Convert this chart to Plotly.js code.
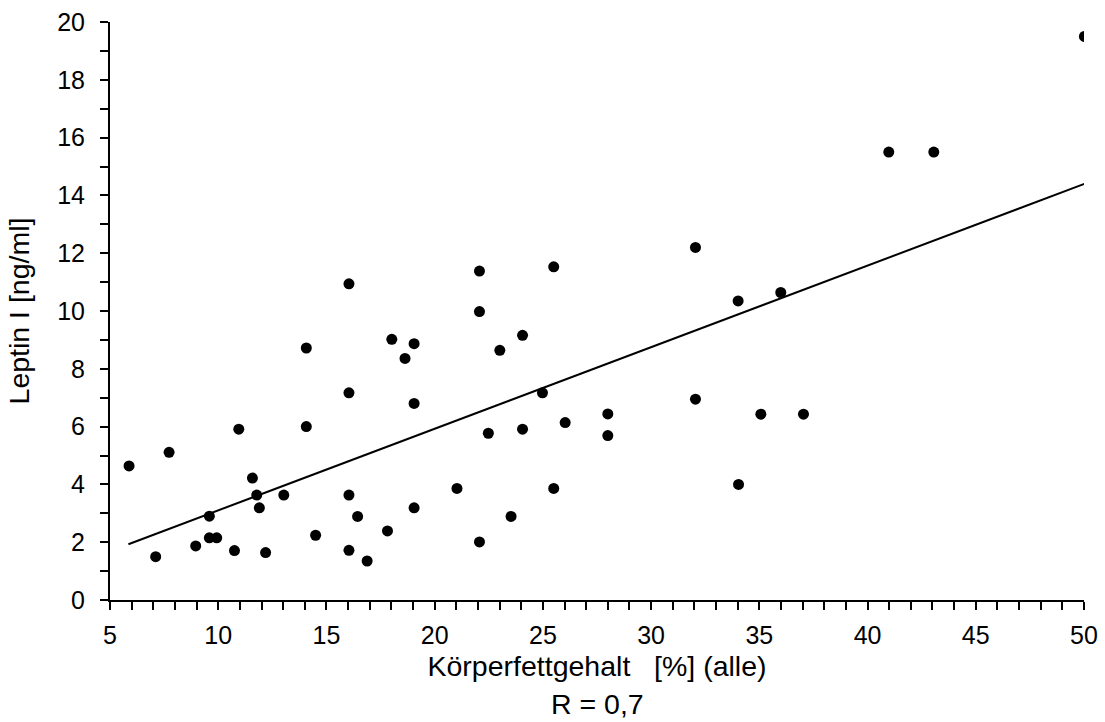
<!DOCTYPE html>
<html>
<head>
<meta charset="utf-8">
<script src="https://cdn.plot.ly/plotly-3.0.1.min.js"></script>
<style>html,body{margin:0;padding:0;background:#fff;}#chart{width:1105px;height:722px;}</style>
</head>
<body>
<div id="chart"></div>
<script>
// Körperfettgehalt [%] (x) vs Leptin I [ng/ml] (y)
const bodyFat = [5.88, 7.73, 7.11, 8.96, 9.59, 9.59, 9.93, 10.75, 10.95, 11.58, 11.78, 11.90, 12.19, 13.03,
  14.07, 14.07, 14.50, 16.04, 16.04, 16.04, 16.04, 16.44, 16.88, 17.82, 18.02, 18.63, 19.05, 19.05, 19.05,
  21.03, 22.07, 22.07, 22.07, 22.48, 23.01, 23.53, 24.06, 24.06, 24.98, 25.50, 25.50, 26.03, 28.00, 28.00,
  32.05, 32.05, 34.02, 34.04, 35.07, 35.99, 37.04, 40.98, 43.06, 50.02];
const leptin = [4.64, 5.11, 1.50, 1.87, 2.90, 2.15, 2.15, 1.71, 5.91, 4.22, 3.63, 3.19, 1.64, 3.63,
  6.00, 8.72, 2.24, 3.63, 1.72, 7.17, 10.94, 2.89, 1.35, 2.39, 9.02, 8.36, 8.87, 6.80, 3.19,
  3.86, 11.38, 9.98, 2.01, 5.77, 8.64, 2.89, 9.16, 5.91, 7.17, 11.53, 3.86, 6.14, 6.44, 5.69,
  12.20, 6.95, 10.35, 4.00, 6.43, 10.64, 6.43, 15.50, 15.50, 19.50];
// regression line endpoints
const fitX = [5.85, 50.02];
const fitY = [1.93, 14.40];
const xTitle = 'Körperfettgehalt\u00a0\u00a0\u00a0[%] (alle)';
const rText = 'R = 0,7';
const yTitle = 'Leptin I [ng/ml]';

const FAMILY = '"Liberation Sans", Arial, sans-serif';
const tickFont = {family: FAMILY, color: '#000', size: 25};
const titleFont = {family: FAMILY, color: '#000', size: 28.5};

const traces = [
  {x: bodyFat, y: leptin, type: 'scatter', mode: 'markers',
   marker: {color: '#000', size: 11}, hoverinfo: 'x+y'},
  {x: fitX, y: fitY, type: 'scatter', mode: 'lines',
   line: {color: '#000', width: 2}, hoverinfo: 'skip'}
];

const layout = {
  width: 1105, height: 722,
  margin: {l: 110, r: 21, t: 22, b: 122},
  paper_bgcolor: '#fff', plot_bgcolor: '#fff',
  showlegend: false,
  font: tickFont,
  xaxis: {
    range: [5, 50], tick0: 5, dtick: 5, showgrid: false, zeroline: false,
    showline: true, linecolor: '#000', linewidth: 2,
    ticks: 'outside', ticklen: 8, tickwidth: 2, tickcolor: '#000',
    minor: {dtick: 1, ticks: 'outside', ticklen: 8, tickwidth: 2, tickcolor: '#000', showgrid: false},
    tickfont: tickFont, ticklabelstandoff: 4,
    title: {text: xTitle, font: titleFont, standoff: 8}
  },
  yaxis: {
    range: [0, 20], tick0: 0, dtick: 2, showgrid: false, zeroline: false,
    showline: true, linecolor: '#000', linewidth: 2,
    ticks: 'outside', ticklen: 8, tickwidth: 2, tickcolor: '#000',
    minor: {dtick: 1, ticks: 'outside', ticklen: 8, tickwidth: 2, tickcolor: '#000', showgrid: false},
    tickfont: tickFont, ticklabelstandoff: 10,
    title: {text: yTitle, font: titleFont, standoff: 19}
  },
  annotations: [
    {text: rText, xref: 'paper', yref: 'paper', x: 0.5, y: -0.18, xanchor: 'center', yanchor: 'middle',
     showarrow: false, font: titleFont}
  ]
};

Plotly.newPlot('chart', traces, layout, {displayModeBar: false, staticPlot: true});
</script>
</body>
</html>
